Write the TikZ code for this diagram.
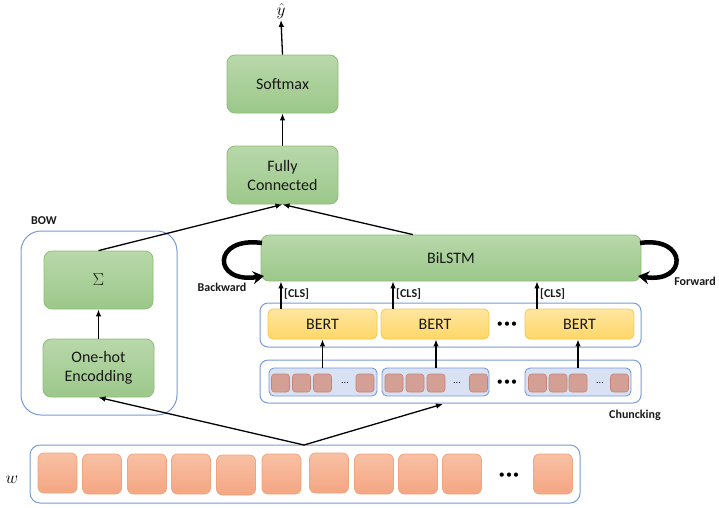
\documentclass[tikz,border=0pt]{standalone}
\usepackage{fontspec}
\setmainfont{Carlito}
\usetikzlibrary{arrows.meta}
\definecolor{gtop}{RGB}{184,216,170}
\definecolor{gbot}{RGB}{156,200,138}
\definecolor{gborder}{RGB}{140,190,115}
\definecolor{btop}{RGB}{255,230,160}
\definecolor{bbot}{RGB}{255,214,104}
\definecolor{bborder}{RGB}{245,200,80}
\definecolor{cblue}{RGB}{120,155,215}
\definecolor{chfill}{RGB}{216,226,243}
\definecolor{sqfill}{RGB}{212,160,150}
\definecolor{sqborder}{RGB}{196,132,122}
\definecolor{wtop}{RGB}{248,192,164}
\definecolor{wbot}{RGB}{244,166,130}
\definecolor{wborder}{RGB}{240,165,125}
\definecolor{txt}{RGB}{25,25,25}
\tikzset{
  greenbox/.style={draw=gborder, line width=0.8pt, rounded corners=8pt, top color=gtop, bottom color=gbot,
    minimum width=111pt, minimum height=58pt, font=\fontsize{16}{19}\selectfont, align=center, inner sep=0pt, text=txt},
  bertbox/.style={draw=bborder, line width=0.8pt, rounded corners=5pt, top color=btop, bottom color=bbot,
    minimum width=109pt, minimum height=30pt, font=\fontsize{16}{19}\selectfont, inner sep=0pt, text=txt},
  container/.style={draw=cblue, line width=1pt, fill=white, inner sep=0pt},
  chunkbox/.style={draw=cblue, line width=0.9pt, fill=chfill, rounded corners=5pt, minimum height=28pt, inner sep=0pt},
  sq/.style={draw=sqborder, line width=0.6pt, fill=sqfill, rounded corners=3pt, minimum width=18pt, minimum height=18pt, inner sep=0pt},
  wsq/.style={draw=wborder, line width=0.8pt, top color=wtop, bottom color=wbot, rounded corners=6pt, minimum width=39pt, minimum height=40pt, inner sep=0pt},
  arr/.style={-{Latex[length=7pt,width=5.5pt]}, line width=1.3pt, black},
  loopar/.style={-{Stealth[length=11pt,width=13pt]}, line width=4.5pt, black},
  lbl/.style={font=\bfseries\fontsize{12}{14}\selectfont, text=txt, inner sep=0pt},
  smalldots/.style={font=\fontsize{10}{10}\selectfont, text=txt, inner sep=0pt},
  bigdots/.style={font=\fontsize{12}{12}\selectfont, inner sep=0pt},
}
\newcommand{\bdots}{•\hspace{1.2pt}•\hspace{1.2pt}•}
\begin{document}
\begin{tikzpicture}[x=1pt,y=-1pt]
\useasboundingbox (0,0) rectangle (719,507);
% output chain
\node[font=\fontsize{16}{16}\selectfont, inner sep=1pt] (yhat) at (281,11) {$\hat{y}$};
\node[greenbox] (soft) at (282.5,84) {Softmax};
\node[greenbox] (fc) at (282.5,175) {Fully\\Connected};
% BOW
\node[container, rounded corners=20pt, minimum width=156pt, minimum height=184pt] (bow) at (99,323) {};
\node[lbl] (bowl) at (44,221) {BOW};
\node[greenbox, minimum width=109pt] (sig) at (98.5,280) {$\Sigma$};
\node[greenbox] (oh) at (98.5,368) {One-hot\\Encodding};
% BiLSTM
\node[greenbox, minimum width=380pt, minimum height=46pt] (bil) at (451,258) {BiLSTM};
% BERT container
\node[container, rounded corners=8pt, minimum width=381pt, minimum height=44pt] (bertc) at (450.5,325) {};
\node[bertbox] (b1) at (322.5,324) {BERT};
\node[bertbox, minimum width=108pt] (b2) at (435,324) {BERT};
\node[bertbox] (b3) at (579.5,324) {BERT};
\node[bigdots] (bd) at (507,325) {\bdots};
% chunk container
\node[container, rounded corners=8pt, minimum width=381pt, minimum height=43pt] (chc) at (450.5,381.5) {};
\node[lbl] (chl) at (635,415) {Chuncking};
\node[chunkbox, minimum width=108pt] (c1) at (323,382) {};
\node[chunkbox, minimum width=107pt] (c2) at (435.5,382) {};
\node[chunkbox, minimum width=106pt] (c3) at (578,382) {};
\node[sq] (s11) at (280.5,383) {};
\node[sq] (s12) at (301.5,383) {};
\node[sq] (s13) at (322.5,383) {};
\node[smalldots] (d1) at (345,383) {...};
\node[sq] (s14) at (365,383) {};
\node[sq] (s21) at (394,383) {};
\node[sq] (s22) at (415,383) {};
\node[sq] (s23) at (436,383) {};
\node[smalldots] (d2) at (457,383) {...};
\node[sq] (s24) at (478.5,383) {};
\node[sq] (s31) at (537.5,383) {};
\node[sq] (s32) at (558,383) {};
\node[sq] (s33) at (578,383) {};
\node[smalldots] (d3) at (600,383) {...};
\node[sq] (s34) at (619.5,383) {};
\node[bigdots] (cd) at (507,383) {\bdots};
% w row
\node[font=\fontsize{16}{16}\selectfont, inner sep=0pt] (wl) at (12,480) {$w$};
\node[container, rounded corners=10pt, minimum width=550pt, minimum height=58pt] (wbox) at (305,474) {};
\foreach \i/\x/\y in {1/57.5/473,2/102/474,3/147/474,4/191/474,5/236/475,6/281.5/474,7/329/473,8/374/474,9/418/474,10/462/474,11/553/474}{
  \node[wsq] (w\i) at (\x,\y) {};
}
\node[bigdots] (wd) at (509,476) {\bdots};
% connectors
\draw[arr] (soft.north) -- (yhat.south);
\draw[arr] (fc.north) -- (soft.south);
\draw[arr] (sig.north) -- (fc.south);
\draw[arr] (bil.north -| 413,0) -- (fc.south);
\draw[arr] (oh.north) -- (sig.south);
\coordinate (apex) at (304,445);
\coordinate (chin) at (443,404);
\draw[arr] (apex) -- (oh.south);
\draw[arr] (apex) -- (chin);
% chunks to BERT
\draw[arr] (c1.north -| s13.north) -- (b1.south -| s13.north);
\draw[arr] (c2.north -| s23.north) -- (b2.south -| s23.north);
\draw[arr] (c3.north -| s33.north) -- (b3.south -| s33.north);
% CLS
\coordinate (k1) at (281,0);
\coordinate (k2) at (393,0);
\coordinate (k3) at (537,0);
\draw[arr] (b1.north -| k1) -- (bil.south -| k1);
\draw[arr] (b2.north -| k2) -- (bil.south -| k2);
\draw[arr] (b3.north -| k3) -- (bil.south -| k3);
\node[lbl, anchor=west] (cls1) at (284,294) {[CLS]};
\node[lbl, anchor=west] (cls2) at (396,294) {[CLS]};
\node[lbl, anchor=west] (cls3) at (540,294) {[CLS]};
% loops
\coordinate (bl1) at (262,243);
\coordinate (bl2) at (264,276);
\coordinate (fr1) at (640,243);
\coordinate (fr2) at (638,276);
\draw[loopar] (bl1) .. controls (212,236) and (212,284) .. (bl2);
\draw[loopar] (fr1) .. controls (688,236) and (688,284) .. (fr2);
\node[lbl] (bwl) at (222,287) {Backward};
\node[lbl] (fwl) at (695,281) {Forward};
\end{tikzpicture}
\end{document}
